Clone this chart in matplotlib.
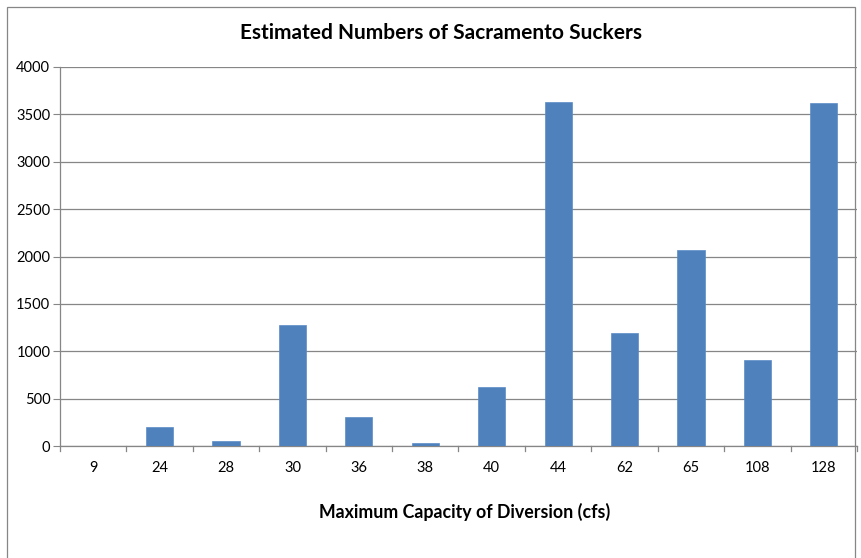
import matplotlib
matplotlib.use("Agg")
import matplotlib.pyplot as plt
from matplotlib.patches import Rectangle

categories = ["9", "24", "28", "30", "36", "38", "40", "44", "62", "65", "108", "128"]
values = [0, 200, 50, 1275, 305, 35, 625, 3630, 1190, 2065, 905, 3615]
yticks = [0, 500, 1000, 1500, 2000, 2500, 3000, 3500, 4000]

plt.rcParams['font.family'] = ['Lato', 'DejaVu Sans']

W, H = 862, 558
fig = plt.figure(figsize=(W / 100, H / 100), dpi=100)
fig.patch.set_facecolor("white")

# outer chart border
fig.add_artist(Rectangle((7 / W, -0.05), (855 - 7) / W, 1.05 - 7 / H,
                         transform=fig.transFigure, fill=False,
                         edgecolor="#868686", linewidth=0.9))

ax = fig.add_axes([60 / W, (H - 446) / H, (857 - 60) / W, (446 - 67) / H])
x = list(range(len(categories)))
ax.bar(x, values, width=0.41, color="#4F81BD", edgecolor="#5b8cc7", linewidth=0.5, zorder=3)
ax.set_xlim(-0.5, len(categories) - 0.5)
ax.set_ylim(0, 4000)
ax.set_yticks(yticks)
ax.set_yticklabels([str(v) for v in yticks], fontsize=10.5)
ax.set_xticks(x)
ax.set_xticklabels(categories, fontsize=10.5)
ax.tick_params(axis="x", length=0, pad=11)
ax.tick_params(axis="y", length=5, color="#868686", pad=2)
# boundary ticks for x axis
for b in [i - 0.5 for i in range(len(categories) + 1)]:
    ax.plot([b, b], [0, -0.012], transform=ax.get_xaxis_transform(),
            color="#868686", linewidth=0.9, clip_on=False)
ax.grid(axis="y", color="#868686", linewidth=0.9, zorder=0)
for s in ["top", "right"]:
    ax.spines[s].set_visible(False)
for s in ["left", "bottom"]:
    ax.spines[s].set_color("#868686")
    ax.spines[s].set_linewidth(0.9)

fig.text(441 / W, 1 - 33 / H, "Estimated Numbers of Sacramento Suckers",
         ha="center", va="center", fontsize=15, fontweight="bold")
fig.text(465 / W, 1 - 512 / H, "Maximum Capacity of Diversion (cfs)",
         ha="center", va="center", fontsize=12.8, fontweight="bold")

fig.savefig("out.png", dpi=100)
